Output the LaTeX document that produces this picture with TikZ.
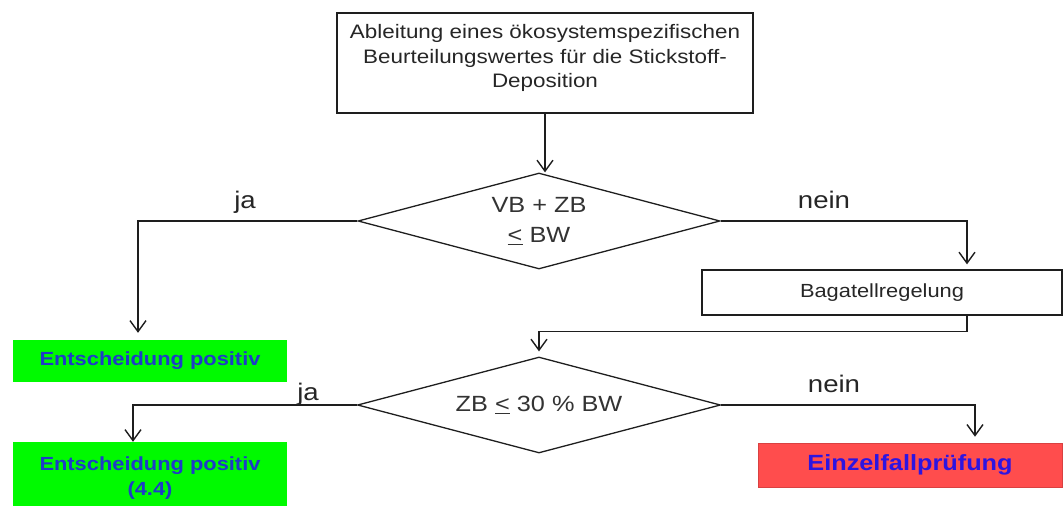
\documentclass[tikz,border=0pt]{standalone}
\usepackage{fontspec}
\setmainfont{Liberation Sans}[FakeStretch=1.15]
\usetikzlibrary{arrows.meta,shapes.geometric}
\definecolor{gr}{RGB}{0,250,0}
\definecolor{bl}{RGB}{30,60,200}
\definecolor{bltwo}{RGB}{45,20,225}
\definecolor{rd}{RGB}{255,77,77}
\definecolor{ln}{RGB}{30,30,30}
\begin{document}
\begin{tikzpicture}[x=1pt,y=-1pt,
  conn/.style={draw=ln, line width=1.4pt},
  arr/.style={conn, -{Straight Barb[length=11pt,width=16pt,line width=1.4pt]}},
  box/.style={draw=ln, line width=1.3pt, inner sep=0pt},
  dec/.style={diamond, draw=ln, line width=1.3pt, inner sep=0pt, aspect=3.77, align=center, font=\fontsize{22}{30}\selectfont, text=black!80},
  grn/.style={fill=gr, inner sep=0pt, text=bl, align=center, font=\bfseries\fontsize{19}{25}\selectfont},
  lab/.style={font=\fontsize{24}{28}\selectfont, inner sep=0pt, anchor=base, text=black!85}
]
\useasboundingbox (0,0) rectangle (1063,506);

% top box
\node[box, minimum width=416, minimum height=100] (top) at (545,63) {};
\node[align=center, inner sep=0pt, font=\fontsize{19.5}{24.5}\selectfont, text=black!85] (toptxt) at (545,58)
  {Ableitung eines ökosystemspezifischen\\Beurteilungswertes für die Stickstoff-\\Deposition};

% decisions
\node[dec, minimum width=362, minimum height=96] (d1) at (539,221) {VB + ZB\\\underline{<} BW};
\node[dec, minimum width=363, minimum height=96] (d2) at (539,405) {ZB \underline{<} 30 \% BW};

% boxes
\node[box, minimum width=360, minimum height=45, font=\fontsize{19}{24}\selectfont, text=black!85] (bag) at (882,292.5) {Bagatellregelung};
\node[grn, minimum width=274, minimum height=42] (g1) at (150,361) {Entscheidung positiv};
\node[grn, minimum width=274, minimum height=72] (g2) at (150,478) {Entscheidung positiv\\(4.4)};
\node[fill=rd, draw=rd!85!black, line width=0.6pt, inner sep=0pt, minimum width=304, minimum height=44,
      text=bltwo, font=\bfseries\fontsize{22}{26}\selectfont] (red) at (910,465) {Einzelfallprüfung};

% connectors
\draw[arr] (top.south) -- (top.south |- d1.north);
\draw[arr] (d1.west) -| ([xshift=-12pt,yshift=7pt]g1.north);
\draw[arr] (d1.east) -| ([xshift=85pt,yshift=5pt]bag.north);
\draw[arr] ([xshift=85pt]bag.south) -- ++(0,16) -| ([yshift=5pt]d2.north);
\draw[arr] (d2.west) -| ([xshift=-17pt]g2.north);
\draw[arr] (d2.east) -| ([xshift=65pt,yshift=6pt]red.north);

% labels
\node[lab] (ja1) at (245,208) {ja};
\node[lab] (nein1) at (824,208) {nein};
\node[lab] (ja2) at (308,400) {ja};
\node[lab] (nein2) at (834,392) {nein};
\end{tikzpicture}
\end{document}
